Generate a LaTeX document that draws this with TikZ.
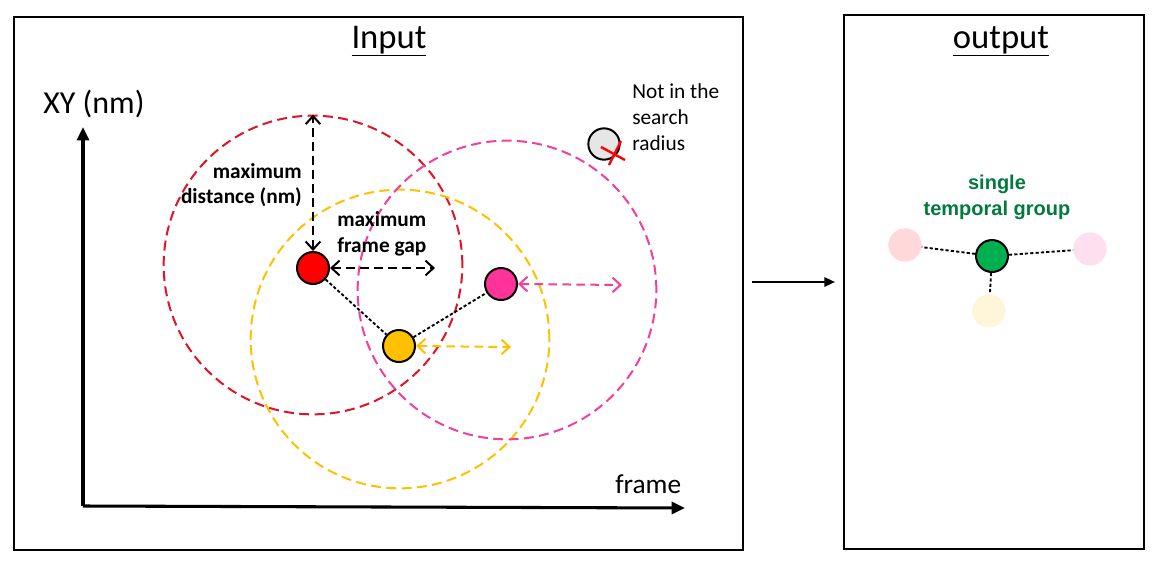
\documentclass[tikz,border=0pt]{standalone}
\usepackage{fontspec}
\setmainfont{Carlito}
\newfontfamily\arialFont{Liberation Sans}
\usetikzlibrary{arrows.meta}
\definecolor{redFill}{RGB}{255,0,0}
\definecolor{redLine}{RGB}{224,20,36}
\definecolor{yellowFill}{RGB}{255,192,0}
\definecolor{pinkFill}{RGB}{255,51,153}
\definecolor{pinkLine}{RGB}{240,64,154}
\definecolor{greenFill}{RGB}{0,176,80}
\definecolor{greenText}{RGB}{0,122,61}
\definecolor{greyFill}{RGB}{231,230,230}
\definecolor{fadedRed}{RGB}{255,217,218}
\definecolor{fadedPink}{RGB}{253,224,240}
\definecolor{fadedYellow}{RGB}{255,245,217}
\tikzstyle{panel} = [draw=black, line width=1pt]
\tikzstyle{spot} = [circle, draw=black, line width=1.5pt, minimum size=24pt, inner sep=0pt]
\tikzstyle{ghost} = [circle, minimum size=25pt, inner sep=0pt]
\tikzstyle{zone} = [circle, dash pattern=on 7.5pt off 4pt, line width=1.5pt, minimum size=224pt, inner sep=0pt]
\tikzstyle{link} = [dash pattern=on 2.4pt off 1.6pt, line width=1.4pt]
\tikzstyle{gapArrow} = [dash pattern=on 6.5pt off 4pt, line width=1.5pt, {Straight Barb[length=6pt,width=11pt]}-{Straight Barb[length=6pt,width=11pt]}]
\tikzstyle{axis} = [line width=2.3pt, -{Triangle[length=10pt,width=9pt]}]
\tikzstyle{bodyText} = [inner sep=0pt]
\newcommand{\textSize}[2]{\fontsize{#1}{#2}\selectfont}

\begin{document}
\begin{tikzpicture}[x=0.75pt, y=-0.75pt]
  \useasboundingbox (0,0) rectangle (1164,565);
  \draw[panel] (14,17) rectangle (743,550);
  \draw[panel] (844,15) rectangle (1144,549);
  \node[bodyText, anchor=base, font=\textSize{26}{31}] (inputTitle) at (389,48) {\underline{Input}};
  \node[bodyText, anchor=base, font=\textSize{26}{31}] (outputTitle) at (1001,48) {\underline{output}};

  \coordinate (origin) at (83,506);
  \coordinate (yTip) at (83,127);
  \coordinate (xTip) at (685,508);
  \draw[axis] (origin) -- (yTip);
  \draw[axis] (origin) -- (xTip);
  \node[bodyText, anchor=base west, font=\textSize{24}{28}] (yName) at (43,113) {XY (nm)};
  \node[bodyText, anchor=base west, font=\textSize{20.5}{24}] (xName) at (615,493) {frame};

  \node[zone, draw=redLine] (redZone) at (313,265) {};
  \node[zone, draw=yellowFill] (yellowZone) at (400,339) {};
  \node[zone, draw=pinkLine] (pinkZone) at (507,290) {};

  \node[spot, fill=redFill] (redSpot) at (313,268) {};
  \node[spot, fill=yellowFill] (yellowSpot) at (399,346) {};
  \node[spot, fill=pinkFill] (pinkSpot) at (501,284) {};
  \node[spot, fill=greyFill, minimum size=23.5pt] (farSpot) at (604,144) {};
  \draw[link] (redSpot) -- (yellowSpot);
  \draw[link] (yellowSpot) -- (pinkSpot);
  \draw[red, line width=1.8pt] (601,147) -- (625,160) (609,165) -- (621,141);

  \coordinate (redGapEnd) at (435,268);
  \coordinate (yellowGapEnd) at (511,347);
  \coordinate (pinkGapEnd) at (622,285);
  \draw[gapArrow] (redSpot.north) -- (redZone.north);
  \draw[gapArrow] (redSpot.east) -- (redGapEnd);
  \draw[gapArrow, draw=yellowFill] (yellowSpot.east) -- (yellowGapEnd);
  \draw[gapArrow, draw=pinkLine] (pinkSpot.east) -- (pinkGapEnd);

  \node[bodyText, anchor=base east, align=right, font=\bfseries\textSize{16}{18.75}] (distText) at (302,203) {maximum\\distance (nm)};
  \node[bodyText, anchor=base west, align=left, font=\bfseries\textSize{16}{19.5}] (gapText) at (337,252) {maximum\\frame gap};
  \node[bodyText, anchor=base west, align=left, font=\textSize{16}{19.5}] (searchText) at (632,150) {Not in the\\search\\radius};

  \coordinate (stepStart) at (752,282);
  \coordinate (stepEnd) at (835,282);
  \draw[line width=1.6pt, -{Triangle[length=8pt,width=7pt]}] (stepStart) -- (stepEnd);

  \node[bodyText, anchor=base, align=center, text=greenText, font=\arialFont\bfseries\textSize{15}{19.5}] (groupText) at (997,215) {single\\temporal group};
  \node[ghost, fill=fadedRed] (redGhost) at (905,245) {};
  \node[ghost, fill=fadedPink] (pinkGhost) at (1090,249) {};
  \node[ghost, fill=fadedYellow] (yellowGhost) at (989,311) {};
  \node[spot, fill=greenFill] (greenSpot) at (992,256) {};
  \draw[link] (greenSpot) -- (redGhost);
  \draw[link] (greenSpot) -- (pinkGhost);
  \draw[link] (greenSpot) -- (yellowGhost);
\end{tikzpicture}
\end{document}
